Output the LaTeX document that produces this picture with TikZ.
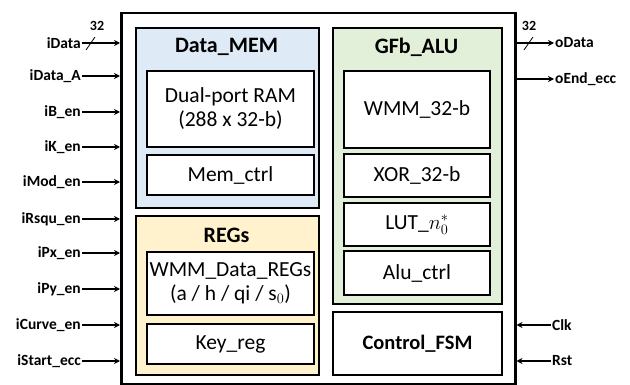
\documentclass[tikz,border=0pt]{standalone}
\usepackage{fontspec}
\setmainfont{Carlito}
\usetikzlibrary{positioning,calc}
\usetikzlibrary{arrows.meta}
\definecolor{MemBlue}{RGB}{222,235,247}
\definecolor{RegYellow}{RGB}{255,242,204}
\definecolor{AluGreen}{RGB}{226,240,217}
\tikzset{
  grp/.style={draw=black,line width=2pt,anchor=north west,inner sep=0pt},
  unit/.style={draw=black,line width=2pt,fill=white,anchor=north west,inner sep=0pt,
    align=center,font=\fontsize{21.5}{24}\selectfont},
  ttl/.style={font=\fontsize{22}{26}\selectfont\bfseries},
  pin/.style={font=\fontsize{15.5}{18}\selectfont\bfseries,inner sep=1pt},
  sig/.style={line width=2pt,-{Stealth[length=6pt,width=6pt]}},
  bus/.style={font=\fontsize{14}{16}\selectfont\bfseries,inner sep=0pt},
}
\tikzset{slash/.style={line width=0.8pt}}
\begin{document}
\begin{tikzpicture}[x=1pt,y=-1pt]
\useasboundingbox (0,0) rectangle (630,385);
\node[grp,line width=2.5pt,minimum width=394pt,minimum height=371pt] (chip) at (120,12) {};
% memory block
\node[grp,fill=MemBlue,minimum width=183pt,minimum height=180pt] (mem) at (135,27) {};
\node[ttl] (memT) at (226.5,47) {Data\_MEM};
\node[unit,minimum width=167pt,minimum height=76pt] (ram) at (146,70) {Dual-port RAM\\(288 x 32-b)};
\node[unit,minimum width=167pt,minimum height=40pt] (memctrl) at (146,154) {Mem\_ctrl};
% registers
\node[grp,fill=RegYellow,minimum width=183pt,minimum height=159pt] (regs) at (135,215) {};
\node[ttl] (regsT) at (226.5,235) {REGs};
\node[unit,minimum width=167pt,minimum height=63pt] (wmmreg) at (146,251) {WMM\_Data\_REGs\\(a / h / qi / s$_0$)};
\node[unit,minimum width=167pt,minimum height=40pt] (keyreg) at (146,323) {Key\_reg};
% alu
\node[grp,fill=AluGreen,minimum width=169pt,minimum height=276pt] (alu) at (332,27) {};
\node[ttl] (aluT) at (416.5,47) {GFb\_ALU};
\node[unit,minimum width=146pt,minimum height=77pt] (wmm) at (343,70) {WMM\_32-b};
\node[unit,minimum width=146pt,minimum height=43pt] (xor) at (343,153) {XOR\_32-b};
\node[unit,minimum width=146pt,minimum height=43pt] (lut) at (343,202) {LUT\_$n_0^*$};
\node[unit,minimum width=146pt,minimum height=44pt] (aluctrl) at (343,250) {Alu\_ctrl};
% fsm
\node[unit,font=\fontsize{20.5}{24}\selectfont\bfseries,minimum width=169pt,minimum height=63pt] (fsm) at (332,311) {Control\_FSM};
% inputs
\node[pin,anchor=east] (iData) at (82,43) {iData};
\node[pin,anchor=east] (iDataA) at (82,76) {iData\_A};
\node[pin,anchor=east] (iBen) at (82,112) {iB\_en};
\node[pin,anchor=east] (iKen) at (82,147) {iK\_en};
\node[pin,anchor=east] (iModen) at (82,182) {iMod\_en};
\node[pin,anchor=east] (iRsquen) at (82,219) {iRsqu\_en};
\node[pin,anchor=east] (iPxen) at (82,253) {iPx\_en};
\node[pin,anchor=east] (iPyen) at (82,289) {iPy\_en};
\node[pin,anchor=east] (iCurveen) at (82,325) {iCurve\_en};
\node[pin,anchor=east] (iStartecc) at (82,361) {iStart\_ecc};
\draw[sig] (iData.east) -- (iData.east -| chip.west);
\draw[sig] (iDataA.east) -- (iDataA.east -| chip.west);
\draw[sig] (iBen.east) -- (iBen.east -| chip.west);
\draw[sig] (iKen.east) -- (iKen.east -| chip.west);
\draw[sig] (iModen.east) -- (iModen.east -| chip.west);
\draw[sig] (iRsquen.east) -- (iRsquen.east -| chip.west);
\draw[sig] (iPxen.east) -- (iPxen.east -| chip.west);
\draw[sig] (iPyen.east) -- (iPyen.east -| chip.west);
\draw[sig] (iCurveen.east) -- (iCurveen.east -| chip.west);
\draw[sig] (iStartecc.east) -- (iStartecc.east -| chip.west);
\draw[slash] ($(iData.east)+(4,7)$) -- ($(iData.east)+(13,-6)$);
\node[bus] (busIn) at (97,26) {32};
% outputs
\node[pin,anchor=west] (oData) at (554,43) {oData};
\node[pin,anchor=west] (oEndecc) at (554,79) {oEnd\_ecc};
\draw[sig] (oData.west -| chip.east) -- (oData.west);
\draw[sig] (oEndecc.west -| chip.east) -- (oEndecc.west);
\draw[slash] ($(oData.west)+(-30,7)$) -- ($(oData.west)+(-21,-6)$);
\node[bus] (busOut) at (529,26) {32};
\node[pin,anchor=west] (Clk) at (551,325) {Clk};
\node[pin,anchor=west] (Rst) at (551,361) {Rst};
\draw[sig] (Clk.west) -- (Clk.west -| chip.east);
\draw[sig] (Rst.west) -- (Rst.west -| chip.east);
\end{tikzpicture}
\end{document}
